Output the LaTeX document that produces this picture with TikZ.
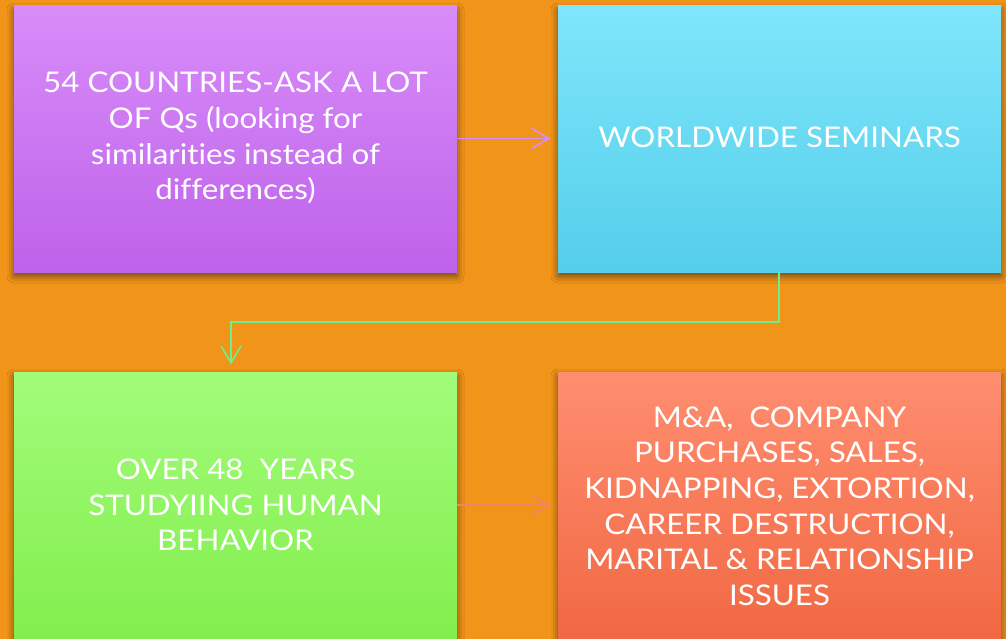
\documentclass[tikz,border=0pt]{standalone}
\usepackage{fontspec}
\setmainfont{Lato}[FakeStretch=1.1,Ligatures=NoCommon]
\usetikzlibrary{arrows.meta,shadows.blur}
\definecolor{bg}{HTML}{F0941A}
\begin{document}
\begin{tikzpicture}[x=1pt,y=-1pt,
  box/.style={blur shadow={shadow xshift=0pt,shadow yshift=-4pt,shadow blur radius=7pt,shadow opacity=55},
    inner sep=0pt,outer sep=0pt},
  lbl/.style={text=white,align=center,font=\fontsize{28.5}{35.6}\selectfont},
  conn/.style={line width=1.6pt,-{Straight Barb[length=17pt,width=20pt]}}]
\useasboundingbox (0,0) rectangle (1006,639);
\fill[bg] (0,0) rectangle (1006,639);
\begin{scope}
\clip (0,0) rectangle (1006,639);
\path[box,top color={rgb,255:red,216;green,140;blue,249},bottom color={rgb,255:red,190;green,98;blue,234}] (14,6) rectangle (457,272);
\path[box,top color={rgb,255:red,127;green,230;blue,251},bottom color={rgb,255:red,84;green,206;blue,234}] (558,6) rectangle (1001,272);
\path[box,top color={rgb,255:red,162;green,252;blue,122},bottom color={rgb,255:red,130;green,238;blue,76}] (14,372) rectangle (457,638);
\path[box,top color={rgb,255:red,255;green,142;blue,112},bottom color={rgb,255:red,241;green,104;blue,67}] (558,372) rectangle (1001,638);
\end{scope}
\coordinate (Ar) at (457,138.5);
\coordinate (Bl) at (550.5,138.5);
\coordinate (Bb) at (779,272);
\coordinate (Ct) at (231,364.5);
\coordinate (Cr) at (457,505);
\coordinate (Dl) at (550.5,505);
\node[lbl] (tA) at (235.5,138) {54 COUNTRIES-ASK A LOT\\OF Qs (looking for\\similarities instead of\\differences)};
\node[lbl] (tB) at (779.5,137) {WORLDWIDE SEMINARS};
\node[lbl] (tC) at (235.5,505) {OVER 48\ \ YEARS\\STUDYIING HUMAN\\BEHAVIOR};
\node[lbl] (tD) at (779.5,506) {M\&A,\ \ COMPANY\\PURCHASES, SALES,\\KIDNAPPING, EXTORTION,\\CAREER DESTRUCTION,\\MARITAL \& RELATIONSHIP\\ISSUES};
\draw[conn,draw={rgb,255:red,218;green,142;blue,240}] (Ar) -- (Bl);
\draw[conn,draw={rgb,255:red,110;green,238;blue,140}] (Bb) -- (779,322) -- (231,322) -- (Ct);
\draw[conn,draw={rgb,255:red,245;green,130;blue,100}] (Cr) -- (Dl);
\end{tikzpicture}
\end{document}
